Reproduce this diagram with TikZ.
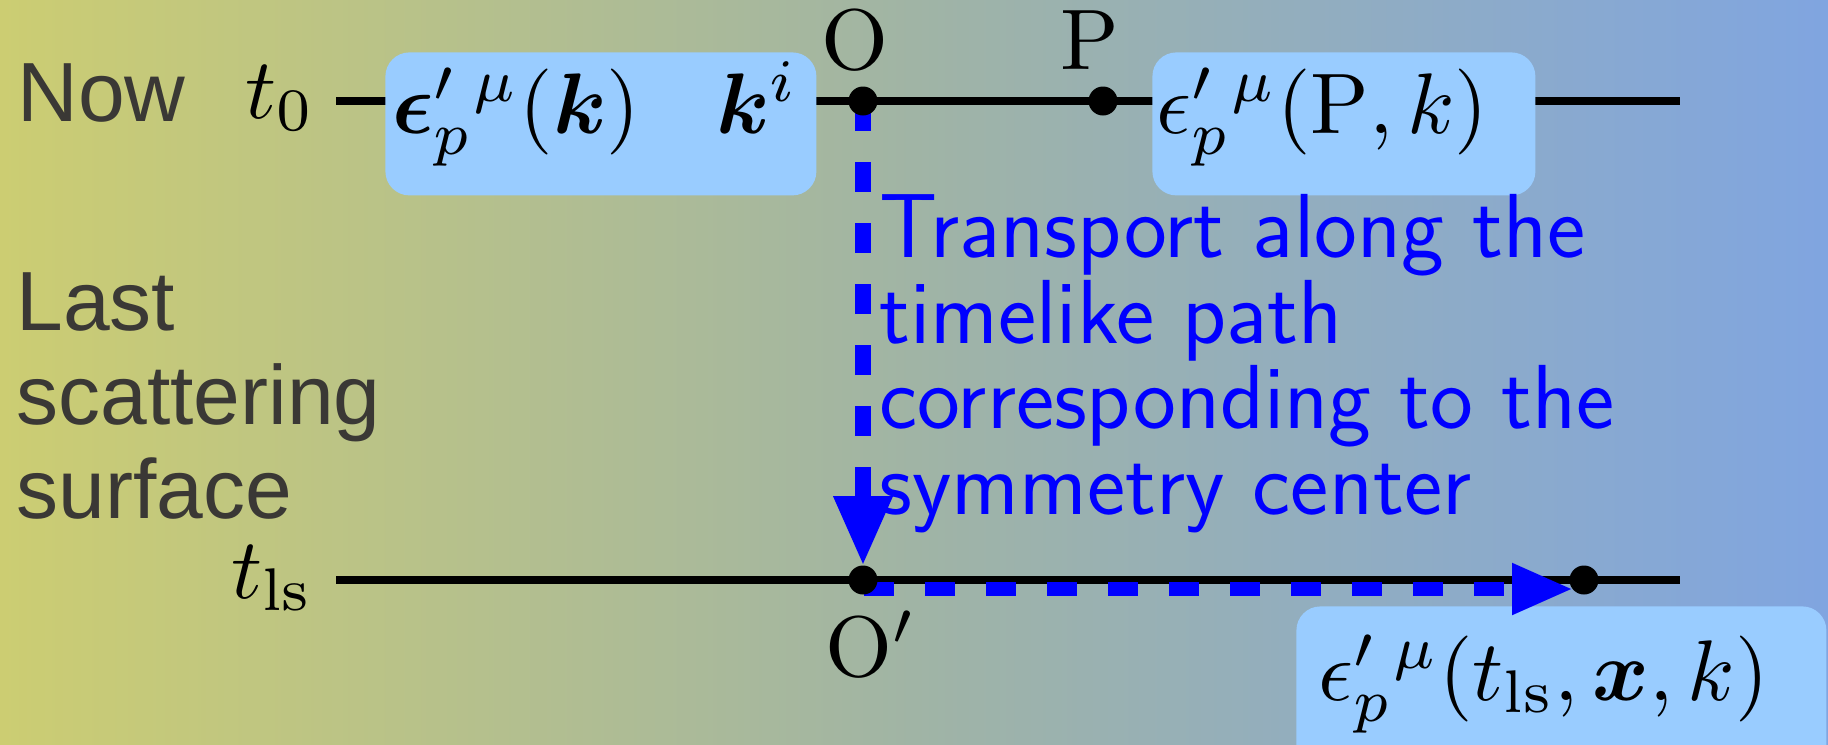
\documentclass[tikz,border=0pt]{standalone}
\usepackage{fontspec}
\usepackage{graphicx}
\usepackage{bm}
\usetikzlibrary{arrows.meta,calc}
\newfontfamily\arialf{Liberation Sans}
\newcommand{\bigmath}[1]{\scalebox{4.3}{$#1$}}
\definecolor{boxblue}{RGB}{153,204,255}
\definecolor{bgl}{RGB}{204,205,114}
\definecolor{bgm}{RGB}{160,180,165}
\definecolor{bgr}{RGB}{128,165,224}
\definecolor{labgrey}{RGB}{58,56,53}
\tikzset{
  mathlab/.style={inner sep=0pt, text=black},
  greylab/.style={inner sep=0pt, text=labgrey, font=\arialf\fontsize{42}{47}\selectfont},
  dotnode/.style={circle, fill=black, inner sep=0pt, minimum size=14.5pt},
  tline/.style={line width=4pt, black},
  bluebox/.style={fill=boxblue, rounded corners=12pt, draw=none, inner sep=0pt, anchor=north west},
  transportv/.style={blue, line width=8pt, dash pattern=on 15pt off 15.5pt, -{Triangle[length=35pt,width=27.5pt]}},
  transporth/.style={blue, line width=7pt, dash pattern=on 15pt off 15.5pt, -{Triangle[length=30.5pt,width=24pt]}},
}
\begin{document}
\begin{tikzpicture}[x=0.5pt,y=-0.5pt]
\useasboundingbox (0,0) rectangle (1828,745);
\clip (0,0) rectangle (1828,745);
\shade[left color=bgl, right color=bgr, middle color=bgm] (0,0) rectangle (1828,745);
% positions
\coordinate (O) at (863,101);
\coordinate (P) at (1103,101);
\coordinate (Op) at (863,580);
\coordinate (E) at (1584,580);
\coordinate (T0a) at (336,101);
\coordinate (T0b) at (1680,101);
\coordinate (TLa) at (336,580);
\coordinate (TLb) at (1680,580);
% time lines
\draw[tline] (T0a) -- (T0b);
\draw[tline] (TLa) -- (TLb);
% boxes
\node[bluebox, minimum width=215.5pt, minimum height=71.5pt] (box1) at (385,52) {};
\node[bluebox, minimum width=191.5pt, minimum height=71.5pt] (box2) at (1152,52) {};
\node[bluebox, minimum width=265pt, minimum height=85pt] (box3) at (1296,606) {};
% labels
\node[greylab, anchor=base west] (now) at (17,121) {Now};
\node[greylab, anchor=north west, align=left] (lss) at (16,272) {Last\\scattering\\surface};
\node[mathlab, anchor=base west] (t0) at (245,118) {\bigmath{t_0}};
\node[mathlab, anchor=base west] (tls) at (231,598) {\bigmath{t_{\mathrm{ls}}}};
\node[mathlab, anchor=base] (Olab) at (855,69) {\bigmath{\mathrm{O}}};
\node[mathlab, anchor=base] (Plab) at (1090,69) {\bigmath{\mathrm{P}}};
\node[mathlab, anchor=base west] (Oplab) at (825,676) {\bigmath{\mathrm{O}'}};
\node[mathlab, anchor=base west] (e1) at (392,133) {\bigmath{\bm{\epsilon}'_p{}^{\mu}(\bm{k})}};
\node[mathlab, anchor=base west] (ki) at (716,133) {\bigmath{\bm{k}^i}};
\node[mathlab, anchor=base west] (e2) at (1156,133) {\bigmath{\epsilon'_p{}^{\mu}(\mathrm{P},k)}};
\node[mathlab, anchor=base west] (e3) at (1318,700) {\bigmath{\epsilon'_p{}^{\mu}(t_{\mathrm{ls}},\bm{x},k)}};
\node[inner sep=0pt, anchor=north west, align=left, text=blue, font=\sffamily\fontsize{45.5}{42.8}\selectfont] (tr) at (879,194) {Transport along the\\timelike path\\corresponding to the\\symmetry center};
% transport arrows
\draw[transportv] (O) -- ($(Op)+(0,-14)$);
\draw[transporth] ($(Op)+(1,9)$) -- ($(E)+(-11,9)$);
% points
\node[dotnode] (Od) at (O) {};
\node[dotnode] (Pd) at (P) {};
\node[dotnode] (Opd) at (Op) {};
\node[dotnode] (Ed) at (E) {};
\end{tikzpicture}
\end{document}
